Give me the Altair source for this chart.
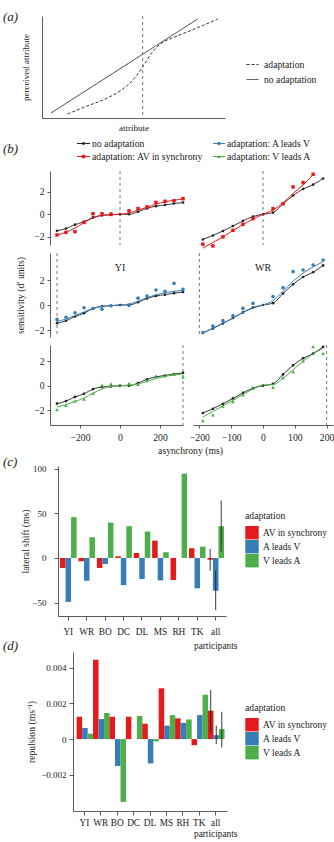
import altair as alt
import pandas as pd

FONT = "Liberation Serif"
RED, BLUE, GREEN = "#E41A1C", "#377EB8", "#4DAF4A"
INK = "#222222"
AXC = "#333333"

# ---------------- panel (a): schematic ----------------
a_series = ["adaptation", "no adaptation"]
a_solid_x = [0.5, 8.5]
a_solid_y = [0.5, 9.7]
a_dash_x = [1.4, 2.5, 3.5, 4.3, 4.9, 5.5, 6.0, 6.5, 7.2, 8.3, 9.6]
a_dash_y = [0.4, 1.2, 1.9, 2.7, 3.6, 5.0, 6.4, 7.3, 7.9, 8.7, 9.7]
a_adapter = [5.5]

# ---------------- panel (b): psychometric data ----------------
subjects = ["YI", "WR"]
yi_async = [-315, -270, -225, -180, -135, -90, -45, 0, 45, 90, 135, 180, 225, 270, 315]
wr_async = [-189, -157.5, -126, -94.5, -63, -31.5, 0, 31.5, 63, 94.5, 126, 157.5, 189]

yi_none = [-1.46, -1.26, -0.92, -0.66, -0.28, -0.1, -0.06, 0.0, 0.0, 0.22, 0.52, 0.72, 0.83, 0.95, 1.04]
wr_none = [-2.23, -1.88, -1.48, -1.04, -0.59, -0.2, 0.0, 0.15, 0.92, 1.66, 2.24, 2.62, 3.17]

yi_sync_pts = [-1.83, -1.6, -1.54, -0.72, 0.05, 0.05, 0.02, None, 0.3, 0.5, 0.65, 1.05, 1.15, 1.2, 1.38]
yi_sync_fit = [-1.88, -1.58, -1.22, -0.74, -0.32, -0.1, -0.03, 0.0, 0.12, 0.36, 0.62, 0.9, 1.1, 1.24, 1.36]
wr_sync_pts = [-2.65, -2.8, -2.0, -1.42, -0.89, -0.39, None, 0.5, 0.94, 2.42, 2.8, 3.54, None]
wr_sync_fit = [-3.0, -2.5, -2.0, -1.45, -0.92, -0.42, 0.0, 0.38, 1.0, 1.85, 2.6, 3.5, None]

yi_avl_pts = [-1.15, -0.98, -0.62, -0.22, -0.28, -0.33, -0.06, None, -0.04, 0.55, 0.72, 1.2, 1.1, 1.73, 1.25]
yi_avl_fit = [-1.32, -1.12, -0.84, -0.55, -0.28, -0.12, -0.05, 0.0, 0.08, 0.3, 0.58, 0.82, 0.98, 1.1, 1.18]
wr_avl_pts = [-2.2, -1.68, -1.25, -0.85, -0.27, 0.13, None, 0.67, 1.39, 2.67, 2.8, 3.2, 3.6]
wr_avl_fit = [-2.25, -1.85, -1.45, -1.05, -0.6, -0.25, 0.0, 0.35, 1.1, 1.9, 2.55, 3.05, 3.45]

yi_val_pts = [-1.96, -1.6, -1.25, -1.09, -0.63, 0.05, 0.15, None, 0.19, 0.1, 0.41, 0.73, 0.79, 0.92, 0.7]
yi_val_fit = [-1.75, -1.55, -1.3, -1.0, -0.62, -0.28, -0.06, 0.0, 0.04, 0.14, 0.35, 0.58, 0.76, 0.88, 0.96]
wr_val_pts = [-2.86, -2.39, -1.66, -1.31, -0.76, -0.22, None, -0.13, 0.65, 1.14, 2.02, 3.18, 2.64]
wr_val_fit = [-2.55, -2.1, -1.65, -1.2, -0.72, -0.28, 0.05, 0.08, 0.6, 1.3, 2.0, 2.6, 3.05]

adapter_sync = [0, 0]
adapter_avlead = [-315, -200]
adapter_valead = [315, 200]

b_labels = ["no adaptation", "adaptation: AV in synchrony", "adaptation: A leads V", "adaptation: V leads A"]

# ---------------- panels (c) and (d) ----------------
participants = ["YI", "WR", "BO", "DC", "DL", "MS", "RH", "TK", "all"]
conditions = ["AV in synchrony", "A leads V", "V leads A"]

shift_sync = [-11.2, -3.7, -11.2, 1.9, 5.6, 19.4, -24.7, 10.9, -1.9]
shift_avlead = [-49.2, -25.5, -6.7, -30.4, -23.6, -25.1, None, -34.0, -36.7]
shift_valead = [45.7, 23.2, 39.6, 35.6, 29.6, 6.4, 94.4, 12.7, 35.6]
shift_err_lo = [-14.3, -58.4, 7.1]
shift_err_hi = [10.1, -14.3, 64.4]

rep_sync = [0.00125, 0.00444, 0.00125, 0.00125, 0.00086, 0.00284, 0.00116, -0.00034, 0.00159]
rep_avlead = [0.00062, 0.00112, -0.0015, None, -0.00136, 0.00075, 0.00091, 0.00134, 0.00022]
rep_valead = [0.0003, 0.00146, -0.00351, 0.00129, -0.00013, 0.00134, 0.0011, 0.00248, 0.00056]
rep_err_lo = [0.00037, -0.00028, -0.00047]
rep_err_hi = [0.00276, 0.00075, 0.00153]


def tag(text, x, y):
    return alt.Chart(pd.DataFrame({"t": [text]})).mark_text(
        font=FONT, fontSize=13, fontStyle="italic", align="left", baseline="middle", color=INK
    ).encode(x=alt.value(x), y=alt.value(y), text="t:N")


# ================= panel (a) =================
a_df = pd.DataFrame({
    "x": a_dash_x + a_solid_x,
    "y": a_dash_y + a_solid_y,
    "series": [a_series[0]] * len(a_dash_x) + [a_series[1]] * len(a_solid_x),
})
a_xs = alt.Scale(domain=[0, 10], nice=False, zero=False)
a_ys = alt.Scale(domain=[0, 10], nice=False, zero=False)
a_xax = alt.Axis(title="attribute", ticks=False, labels=False, titlePadding=5, minExtent=0, titleFontSize=9)
a_yax = alt.Axis(title="perceived attribute", ticks=False, labels=False, titlePadding=12, minExtent=0,
                 titleFontSize=9)

a_lines = alt.Chart(a_df).mark_line(color=AXC, strokeWidth=1, interpolate="monotone").encode(
    x=alt.X("x:Q", scale=a_xs, axis=a_xax),
    y=alt.Y("y:Q", scale=a_ys, axis=a_yax),
    strokeDash=alt.StrokeDash(
        "series:N",
        scale=alt.Scale(domain=a_series, range=[[3, 2], [1, 0]]),
        legend=alt.Legend(
            title=None, orient="none", legendX=204, legendY=42, symbolType="stroke",
            symbolSize=144, symbolStrokeColor=AXC, symbolStrokeWidth=1, labelOffset=5,
            rowPadding=3, padding=0, labelFontSize=9.7,
        ),
    ),
)
a_rule = alt.Chart(pd.DataFrame({"x": a_adapter})).mark_rule(
    strokeDash=[3, 3], color="#666666", strokeWidth=0.9
).encode(x=alt.X("x:Q", scale=a_xs, axis=a_xax))
chart_a = alt.layer(a_lines, a_rule, tag("(a)", -39, 1)).properties(width=183, height=102)

# ================= panel (b) =================
B_XDOM = [[-350, 315], [-220, 220]]
B_XRANGE = [[8, 141], [0, 140]]
B_W = [141, 140]
B_XTICKS = [[-200, 0, 200], [-200, -100, 0, 100, 200]]
B_YDOM = [[-2.72, 3.83], [-2.56, 4.16], [-3.21, 3.32]]
B_H = [74, 84, 80]

b_async = {"YI": yi_async, "WR": wr_async}
b_none = {"YI": yi_none, "WR": wr_none}
b_rows = [
    (RED, "square", 12, {"YI": yi_sync_pts, "WR": wr_sync_pts}, {"YI": yi_sync_fit, "WR": wr_sync_fit},
     dict(zip(subjects, adapter_sync))),
    (BLUE, "circle", 13, {"YI": yi_avl_pts, "WR": wr_avl_pts}, {"YI": yi_avl_fit, "WR": wr_avl_fit},
     dict(zip(subjects, adapter_avlead))),
    (GREEN, "triangle-up", 14, {"YI": yi_val_pts, "WR": wr_val_pts}, {"YI": yi_val_fit, "WR": wr_val_fit},
     dict(zip(subjects, adapter_valead))),
]


def b_cell(r, c):
    subj = subjects[c]
    color, shape, size, pts, fit, adapt = b_rows[r]
    xs = alt.Scale(domain=B_XDOM[c], range=B_XRANGE[c], nice=False, zero=False)
    ys = alt.Scale(domain=B_YDOM[r], nice=False, zero=False)
    if r == 2:
        xkw = dict(values=B_XTICKS[c], tickSize=3, labelPadding=4, labelFlush=False, labelFontSize=9.7)
        if c == 0:
            xkw.update(title="asynchrony (ms)", titleX=148, titlePadding=4, titleFontSize=9.7)
        else:
            xkw.update(title=None)
        xax = alt.Axis(**xkw)
    else:
        xax = None
    if c == 0:
        ykw = dict(values=[-2, 0, 2], offset=-8, tickSize=3, labelPadding=3, labelFontSize=9.7, minExtent=0)
        if r == 1:
            ykw.update(title="sensitivity (d′ units)", titlePadding=8, titleFontSize=9.7)
        else:
            ykw.update(title=None)
        yax = alt.Axis(**ykw)
    else:
        yax = None
    X = alt.X("x:Q", scale=xs, axis=xax)
    df = pd.DataFrame({"x": b_async[subj], "none": b_none[subj], "pts": pts[subj], "fit": fit[subj]})
    rule = alt.Chart(pd.DataFrame({"x": [adapt[subj]]})).mark_rule(
        strokeDash=[3, 3], color="#666666", strokeWidth=0.9
    ).encode(x=X)
    black_line = alt.Chart(df).mark_line(color=INK, strokeWidth=0.9, interpolate="monotone").encode(
        x=X, y=alt.Y("none:Q", scale=ys, axis=yax))
    black_pts = alt.Chart(df).mark_point(filled=True, shape="circle", size=7, color=INK, opacity=1).encode(
        x=X, y=alt.Y("none:Q", scale=ys, axis=yax))
    fit_line = alt.Chart(df).mark_line(color=color, strokeWidth=1, interpolate="monotone").encode(
        x=X, y=alt.Y("fit:Q", scale=ys, axis=yax))
    col_pts = alt.Chart(df).mark_point(filled=True, shape=shape, size=size, color=color, opacity=1).encode(
        x=X, y=alt.Y("pts:Q", scale=ys, axis=yax))
    layers = [rule, black_line, black_pts, fit_line, col_pts]
    if r == 1:
        lab = alt.Chart(pd.DataFrame({"x": [0], "t": [subj]})).mark_text(
            font=FONT, fontSize=10, color=INK, baseline="middle").encode(x=X, y=alt.value(15), text="t:N")
        layers.append(lab)
    return alt.layer(*layers).properties(width=B_W[c], height=B_H[r])


def b_legend(names, colors, shapes, sizes, x_line, x_text, width, with_tag):
    layers = []
    for i, (n, col, shp, sz) in enumerate(zip(names, colors, shapes, sizes)):
        yv = 11.5 + 13 * i
        base = alt.Chart(pd.DataFrame({"t": [n]}))
        layers.append(base.mark_rule(color=col, strokeWidth=1).encode(
            x=alt.value(x_line[0]), x2=alt.value(x_line[1]), y=alt.value(yv)))
        layers.append(base.mark_point(filled=True, shape=shp, size=sz, color=col, opacity=1).encode(
            x=alt.value((x_line[0] + x_line[1]) / 2), y=alt.value(yv)))
        layers.append(base.mark_text(align="left", baseline="middle", font=FONT, fontSize=9.7, color=INK).encode(
            x=alt.value(x_text), y=alt.value(yv), text="t:N"))
    if with_tag:
        layers.append(tag("(b)", -39, 17))
    return alt.layer(*layers).properties(width=width, height=31)


leg_left = b_legend(b_labels[:2], [INK, RED], ["circle", "square"], [8, 12], (35, 48), 50, B_W[0], True)
leg_right = b_legend(b_labels[2:], [BLUE, GREEN], ["circle", "triangle-up"], [12, 14], (20, 32), 34, B_W[1], False)

grid_b = alt.concat(
    leg_left, leg_right,
    b_cell(0, 0), b_cell(0, 1),
    b_cell(1, 0), b_cell(1, 1),
    b_cell(2, 0), b_cell(2, 1),
    columns=2, spacing=alt.RowColnumber(row=8, column=10), bounds="flush",
)


# ================= panels (c) and (d) =================
def long_table(series):
    rows = []
    for pi, p in enumerate(participants):
        for cond, vals in zip(conditions, series):
            v = vals[pi]
            if v is not None:
                rows.append({"participant": p, "condition": cond, "value": v})
    return pd.DataFrame(rows)


def bar_panel(df, err, x_range, pin, pout, ydom, yvals, ytitle, shift, ykw_extra, legend_y, tag_txt, tag_y,
              height, width, label_pad, line_h):
    xs = alt.Scale(domain=participants, range=x_range, paddingInner=pin, paddingOuter=pout)
    xax = alt.Axis(title=None, labelAngle=0, tickSize=4, labelPadding=label_pad, labelFontSize=9.3,
                   labelExpr="datum.value == 'all' ? ['all', 'participants'] : datum.label",
                   labelLineHeight=line_h)
    X = alt.X("participant:N", scale=xs, axis=xax)
    XO = alt.XOffset("condition:N", scale=alt.Scale(domain=conditions, paddingInner=0, paddingOuter=0))
    ys = alt.Scale(domain=ydom, nice=False, zero=False)
    ykw = dict(values=yvals, offset=-shift, tickSize=4, title=ytitle, labelFontSize=9, titleFontSize=9.7,
               minExtent=0)
    ykw.update(ykw_extra)
    yax = alt.Axis(**ykw)
    bars = alt.Chart(df).mark_bar(strokeWidth=0).encode(
        x=X, xOffset=XO,
        y=alt.Y("value:Q", scale=ys, axis=yax),
        color=alt.Color(
            "condition:N",
            scale=alt.Scale(domain=conditions, range=[RED, BLUE, GREEN]),
            legend=alt.Legend(
                title="adaptation", orient="none", legendX=203, legendY=legend_y,
                symbolType="square", symbolSize=180, symbolStrokeWidth=0, symbolOpacity=1,
                rowPadding=0, padding=0, labelOffset=4, titlePadding=5,
                labelFontSize=9.5, titleFontSize=9.7,
            ),
        ),
    )
    errs = alt.Chart(err).mark_rule(color=INK, strokeWidth=0.9).encode(
        x=X, xOffset=XO, y=alt.Y("lo:Q", scale=ys, axis=yax), y2="hi:Q")
    return alt.layer(bars, errs, tag(tag_txt, -39, tag_y)).properties(width=width, height=height)


c_df = long_table([shift_sync, shift_avlead, shift_valead])
c_err = pd.DataFrame({"participant": ["all"] * 3, "condition": conditions, "lo": shift_err_lo, "hi": shift_err_hi})
d_df = long_table([rep_sync, rep_avlead, rep_valead])
d_err = pd.DataFrame({"participant": ["all"] * 3, "condition": conditions, "lo": rep_err_lo, "hi": rep_err_hi})

chart_c = bar_panel(
    c_df, c_err, [16, 184], 0.1, 0.11, [-65, 103], [-50, 0, 50, 100], "lateral shift (ms)", 16,
    dict(labelPadding=8, titlePadding=1), 45, "(c)", -4, 150, 184, 7, 14,
)
chart_d = bar_panel(
    d_df, d_err, [31, 185], 0.06, 0.22, [-0.00402, 0.00487], [-0.002, 0, 0.002, 0.004], "repulsion (ms⁻¹)", 31,
    dict(labelPadding=3, titlePadding=4, format="~g"), 51, "(d)", -6, 159, 185, 3, 11.5,
)

cd = alt.vconcat(chart_c, chart_d, spacing=36, bounds="flush").resolve_scale(color="independent")

root = alt.vconcat(chart_a, grid_b, cd, spacing=0).resolve_scale(color="independent", strokeDash="independent")

chart = (
    root.properties(padding={"left": 3, "top": 11, "right": 0, "bottom": 0}, background="white")
    .configure_view(stroke=None)
    .configure_axis(
        labelFont=FONT, titleFont=FONT, labelFontSize=9.5, titleFontSize=9.5, titleFontWeight="normal",
        labelColor=INK, titleColor=INK, domainColor=AXC, tickColor=AXC, domainWidth=0.8, tickWidth=0.8,
        grid=False,
    )
    .configure_legend(
        labelFont=FONT, titleFont=FONT, labelFontSize=9.5, titleFontSize=9.5, titleFontWeight="normal",
        labelColor=INK, titleColor=INK,
    )
)

chart.save("out.html", embed_options={"renderer": "svg", "actions": False})
